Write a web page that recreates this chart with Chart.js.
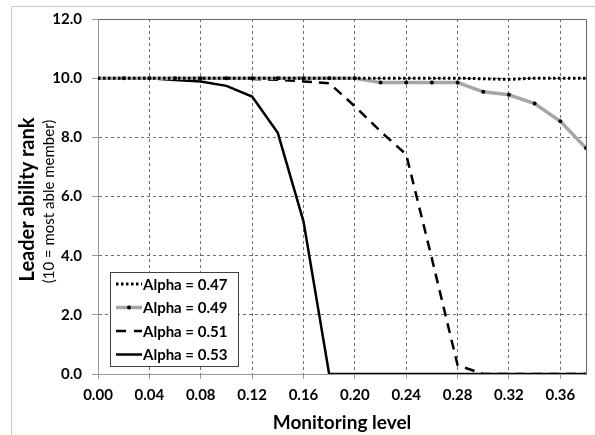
<!DOCTYPE html>
<html>
<head>
<meta charset="utf-8">
<script src="https://cdn.jsdelivr.net/npm/chart.js@4/dist/chart.umd.min.js"></script>
<style>
  html, body { margin: 0; padding: 0; background: #fff; }
  #wrap { width: 595px; height: 435px; }
</style>
</head>
<body>
<div id="wrap"><canvas id="rankChart" width="595" height="435"></canvas></div>
<script>
// monitoring levels (x) and leader ability rank per alpha
const monitoring = [0.00, 0.02, 0.04, 0.06, 0.08, 0.10, 0.12, 0.14, 0.16, 0.18,
                    0.20, 0.22, 0.24, 0.26, 0.28, 0.30, 0.32, 0.34, 0.36, 0.38];
const alpha047 = [10, 10, 10, 10, 10, 10, 10, 10, 10, 10,
                  10, 10, 10, 10, 10, 9.98, 9.96, 10, 10, 10];
const alpha049 = [10, 10, 10, 10, 10, 10, 10, 10, 10, 10,
                  10, 9.85, 9.85, 9.85, 9.85, 9.54, 9.44, 9.14, 8.54, 7.64];
const alpha051 = [10, 10, 10, 10, 10, 10, 9.97, 9.95, 9.89, 9.83,
                  9.05, 8.2, 7.42, 3.9, 0.3, 0, 0, 0, 0, 0];
const alpha053 = [10, 10, 10, 9.94, 9.89, 9.74, 9.38, 8.15, 5.16, 0,
                  0, 0, 0, 0, 0, 0, 0, 0, 0, 0];
const seriesNames = ['Alpha = 0.47', 'Alpha = 0.49', 'Alpha = 0.51', 'Alpha = 0.53'];
const xTicks = [0, 0.04, 0.08, 0.12, 0.16, 0.20, 0.24, 0.28, 0.32, 0.36];
const yTicks = [0, 2, 4, 6, 8, 10, 12];

const FONT = 'Lato, "Open Sans", sans-serif';
Chart.defaults.font.family = FONT;
Chart.defaults.color = '#000';

const toPoints = arr => arr.map((v, i) => ({ x: monitoring[i], y: v }));

// frame, plot border, axis titles and the boxed legend
const decorPlugin = {
    id: 'decor',
    beforeDraw(chart) {
        const ctx = chart.ctx;
        ctx.save();
        ctx.fillStyle = '#fff';
        ctx.fillRect(0, 0, chart.width, chart.height);
        ctx.strokeStyle = '#c8c8c8';
        ctx.lineWidth = 1;
        ctx.beginPath();
        ctx.moveTo(11.5, chart.height);
        ctx.lineTo(11.5, 6.5);
        ctx.lineTo(chart.width, 6.5);
        ctx.stroke();
        ctx.restore();
    },
    afterDraw(chart) {
        const ctx = chart.ctx;
        const a = chart.chartArea;
        ctx.save();

        // top and right border of plot
        ctx.strokeStyle = '#666';
        ctx.lineWidth = 1;
        ctx.beginPath();
        ctx.moveTo(Math.round(a.left) + 0.5, Math.round(a.top) + 0.5);
        ctx.lineTo(Math.round(a.right) + 0.5, Math.round(a.top) + 0.5);
        ctx.lineTo(Math.round(a.right) + 0.5, Math.round(a.bottom) + 0.5);
        ctx.stroke();

        // x title
        ctx.fillStyle = '#000';
        ctx.textAlign = 'center';
        ctx.textBaseline = 'middle';
        ctx.font = 'bold 19px ' + FONT;
        ctx.fillText('Monitoring level', (a.left + a.right) / 2, 423);

        // y title, two lines
        const cy = (a.top + a.bottom) / 2 + 3;
        ctx.save();
        ctx.translate(28, cy);
        ctx.rotate(-Math.PI / 2);
        ctx.font = 'bold 20px ' + FONT;
        ctx.fillText('Leader ability rank', 0, 0);
        ctx.restore();
        ctx.save();
        ctx.translate(49, cy + 2);
        ctx.rotate(-Math.PI / 2);
        ctx.font = '15px ' + FONT;
        ctx.fillText('(10 = most able member)', 0, 0);
        ctx.restore();

        // legend
        const lx = a.left + 12, ly = a.bottom - 102, lw = 128, lh = 94;
        ctx.fillStyle = '#fff';
        ctx.fillRect(lx, ly, lw, lh);
        ctx.strokeStyle = '#404040';
        ctx.strokeRect(lx + 0.5, ly + 0.5, lw, lh);
        chart.data.datasets.forEach((ds, i) => {
            const y = ly + 12 + i * 23.5;
            ctx.save();
            ctx.strokeStyle = ds.borderColor;
            ctx.lineWidth = ds.borderWidth;
            ctx.setLineDash(ds.legendDash || []);
            ctx.beginPath();
            ctx.moveTo(lx + 6, y);
            ctx.lineTo(lx + 32, y);
            ctx.stroke();
            if (ds.pointRadius > 0) {
                ctx.setLineDash([]);
                ctx.fillStyle = ds.pointBackgroundColor;
                ctx.beginPath();
                ctx.arc(lx + 19, y, ds.pointRadius, 0, Math.PI * 2);
                ctx.fill();
            }
            ctx.restore();
            ctx.fillStyle = '#000';
            ctx.textAlign = 'left';
            ctx.textBaseline = 'middle';
            ctx.font = 'bold 15px ' + FONT;
            ctx.fillText(ds.label, lx + 33, y + 1);
        });
        ctx.restore();
    }
};

new Chart(document.getElementById('rankChart'), {
    type: 'line',
    data: {
        datasets: [
            {
                label: seriesNames[0], data: toPoints(alpha047),
                borderColor: '#000', borderWidth: 3, borderDash: [2.5, 2.5],
                legendDash: [2.5, 2.5], pointRadius: 0, tension: 0
            },
            {
                label: seriesNames[1], data: toPoints(alpha049),
                borderColor: '#a6a6a6', borderWidth: 3.5,
                pointRadius: 2, pointBackgroundColor: '#000', pointBorderWidth: 0,
                tension: 0
            },
            {
                label: seriesNames[2], data: toPoints(alpha051),
                borderColor: '#000', borderWidth: 2.5, borderDash: [10, 7],
                legendDash: [10, 8], pointRadius: 0, tension: 0
            },
            {
                label: seriesNames[3], data: toPoints(alpha053),
                borderColor: '#000', borderWidth: 2.5, pointRadius: 0, tension: 0
            }
        ]
    },
    options: {
        responsive: false,
        animation: false,
        devicePixelRatio: 1,
        layout: { padding: { left: 12, top: 16, right: 9, bottom: 0 } },
        plugins: { legend: { display: false }, tooltip: { enabled: false } },
        scales: {
            x: {
                type: 'linear',
                min: 0, max: 0.38,
                afterFit(scale) { scale.height = 61; },
                afterBuildTicks(scale) {
                    scale.ticks = xTicks.map(v => ({ value: v }));
                },
                ticks: {
                    padding: 7,
                    font: { size: 15, weight: 'bold' },
                    maxRotation: 0,
                    autoSkip: false,
                    callback: v => v.toFixed(2)
                },
                grid: {
                    color: '#6e6e6e', lineWidth: 1,
                    drawTicks: true, tickLength: 5, tickColor: '#999', tickBorderDash: []
                },
                border: { display: true, color: '#999', width: 1, dash: [3, 3] }
            },
            y: {
                min: 0, max: 12,
                afterFit(scale) { scale.width = 86; },
                afterBuildTicks(scale) {
                    scale.ticks = yTicks.map(v => ({ value: v }));
                },
                ticks: {
                    padding: 10,
                    font: { size: 15, weight: 'bold' },
                    callback: v => v.toFixed(1)
                },
                grid: {
                    color: '#6e6e6e', lineWidth: 1,
                    drawTicks: true, tickLength: 6, tickColor: '#999', tickBorderDash: []
                },
                border: { display: true, color: '#999', width: 1, dash: [3, 3] }
            }
        }
    },
    plugins: [decorPlugin]
});
</script>
</body>
</html>
